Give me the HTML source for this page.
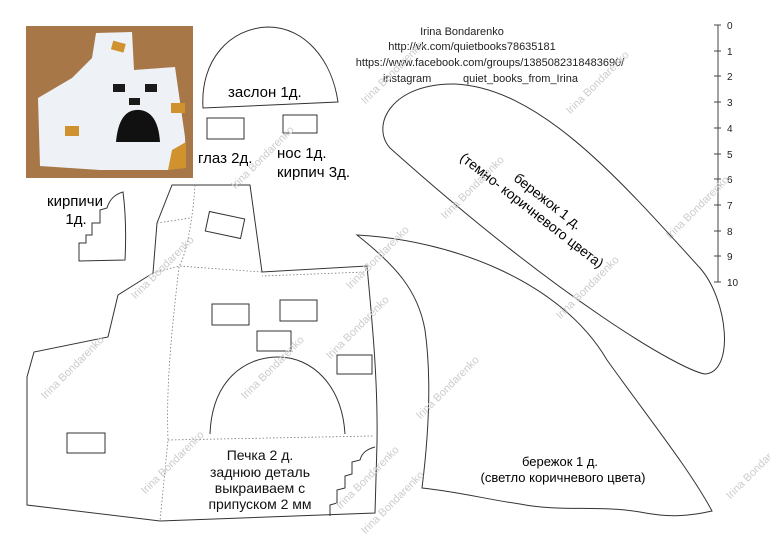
<!DOCTYPE html>
<html><head><meta charset="utf-8"><style>
html,body{margin:0;padding:0;background:#fff;}
svg{display:block;font-family:"Liberation Sans","DejaVu Sans",sans-serif;}
</style></head><body>
<svg width="770" height="544" viewBox="0 0 770 544" xmlns="http://www.w3.org/2000/svg">
<rect width="770" height="544" fill="#fff"/>
<!-- photo -->
<rect x="26" y="26" width="167" height="152" fill="#a87748"/>
<path d="M96 33 L132 32 L134 70 L175 67 L185 137 L186 165 L168 170 L100 170 L40 166 L38 98 L72 78 L92 58 Z" fill="#eef2f7"/>
<rect x="112" y="42" width="13" height="9" fill="#d0922f" transform="rotate(15 118 46)"/>
<rect x="113" y="84" width="12" height="8" fill="#1a1a1a"/>
<rect x="145" y="84" width="12" height="8" fill="#1a1a1a"/>
<rect x="129" y="98" width="11" height="7" fill="#1a1a1a"/>
<path d="M116 142 Q119 108 140 110 Q158 112 160 142 Z" fill="#111"/>
<rect x="171" y="103" width="14" height="10" fill="#d0922f"/>
<rect x="65" y="126" width="14" height="10" fill="#d0922f"/>
<path d="M172 150 L186 142 L186 168 L168 170 Z" fill="#d0922f"/>
<!-- zaslon -->
<path d="M203 108 C200 60 230 28 268 27 C305 27 332 60 338 102 Z" fill="none" stroke="#333" stroke-width="1"/>
<text x="228" y="97" font-size="15">заслон 1д.</text>
<rect x="207" y="118" width="37" height="21" fill="none" stroke="#333" stroke-width="1"/>
<rect x="283" y="115" width="34" height="18" fill="none" stroke="#333" stroke-width="1"/>
<text x="198" y="163" font-size="15">глаз 2д.</text>
<text x="277" y="158" font-size="15">нос 1д.</text>
<text x="277" y="177" font-size="15">кирпич 3д.</text>
<!-- header text -->
<g font-size="11" fill="#222" text-anchor="middle">
<text x="462" y="35">Irina Bondarenko</text>
<text x="472" y="50">http://vk.com/quietbooks78635181</text>
<text x="490" y="66">https://www.facebook.com/groups/1385082318483690/</text>
</g>
<text x="383" y="82" font-size="11" fill="#222">instagram</text>
<text x="463" y="82" font-size="11" fill="#222">quiet_books_from_Irina</text>
<!-- ruler -->
<g stroke="#444" stroke-width="1">
<line x1="718" y1="25" x2="718" y2="282"/>
<line x1="714" y1="25" x2="721" y2="25"/><line x1="714" y1="51" x2="721" y2="51"/><line x1="714" y1="76" x2="721" y2="76"/><line x1="714" y1="102" x2="721" y2="102"/><line x1="714" y1="128" x2="721" y2="128"/><line x1="714" y1="154" x2="721" y2="154"/><line x1="714" y1="179" x2="721" y2="179"/><line x1="714" y1="205" x2="721" y2="205"/><line x1="714" y1="231" x2="721" y2="231"/><line x1="714" y1="256" x2="721" y2="256"/><line x1="714" y1="282" x2="721" y2="282"/>
</g>
<g font-size="10" fill="#222">
<text x="727" y="29">0</text><text x="727" y="55">1</text><text x="727" y="80">2</text><text x="727" y="106">3</text><text x="727" y="132">4</text><text x="727" y="158">5</text><text x="727" y="183">6</text><text x="727" y="209">7</text><text x="727" y="235">8</text><text x="727" y="260">9</text><text x="727" y="286">10</text>
</g>
<!-- top leaf -->
<path d="M390 148 C370 125 392 83 455 84 C540 88 620 180 700 268 C728 300 735 372 705 374 C680 370 560 300 390 148 Z" fill="none" stroke="#333" stroke-width="1"/>
<text x="545" y="205" font-size="14" text-anchor="middle" transform="rotate(38 545 205)">бережок 1 д.</text>
<text x="538" y="222" font-size="14" text-anchor="middle" transform="rotate(38 545 205)">(темно- коричневого цвета)</text>
<!-- lower leaf -->
<path d="M357 235 C450 240 560 280 607 360 C650 420 690 470 712 511 C690 516 670 518 640 512 C600 505 560 512 520 504 C490 500 460 492 422 488 C428 440 432 380 425 330 C418 290 395 265 357 235 Z" fill="none" stroke="#333" stroke-width="1"/>
<text x="560" y="466" font-size="13" text-anchor="middle">бережок 1 д.</text>
<text x="563" y="482" font-size="13" text-anchor="middle">(светло коричневого цвета)</text>
<!-- kirpichi -->
<text x="75" y="206" font-size="15" text-anchor="middle">кирпичи</text>
<text x="76" y="224" font-size="15" text-anchor="middle">1д.</text>
<path d="M123 192 C126 215 126 240 125 260 L79 261 L79 243 L86 243 L86 235 L92 235 L92 223 L100 223 L100 210 L107 208 C110 198 116 194 123 192 Z" fill="none" stroke="#333" stroke-width="1"/>
<!-- oven -->
<path d="M172 185 L250 185 L262 272 L367 266 C372 320 378 380 377 443 L375 513 L160 521 L27 505 L27 377 L34 352 L108 337 L118 295 L153 273 L157 223 Z" fill="none" stroke="#333" stroke-width="1"/>
<g fill="none" stroke="#777" stroke-width="0.8" stroke-dasharray="1.5 2">
<path d="M195 185 C192 230 184 260 179 266 C172 330 166 380 168 440 L160 521"/>
<path d="M157 223 L190 218"/>
<path d="M153 273 L179 266 L262 272"/>
<path d="M168 440 L373 436"/>
<path d="M367 266 L365 272 L262 276"/>
</g>
<rect x="207" y="215" width="36" height="20" fill="none" stroke="#333" stroke-width="1" transform="rotate(12 225 225)"/>
<rect x="212" y="304" width="37" height="21" fill="none" stroke="#333" stroke-width="1"/>
<rect x="280" y="300" width="37" height="21" fill="none" stroke="#333" stroke-width="1"/>
<rect x="257" y="331" width="34" height="20" fill="none" stroke="#333" stroke-width="1"/>
<rect x="337" y="355" width="35" height="19" fill="none" stroke="#333" stroke-width="1"/>
<rect x="67" y="433" width="38" height="20" fill="none" stroke="#333" stroke-width="1"/>
<path d="M210 434 C212 380 245 357 278 357 C312 357 342 385 345 434" fill="none" stroke="#333" stroke-width="1"/>
<path d="M375 447 C368 449 362 452 360 460 L352 462 L352 474 L345 476 L345 488 L337 490 L337 503 L330 505 L330 516" fill="none" stroke="#333" stroke-width="1"/>
<g font-size="14" text-anchor="middle" fill="#111">
<text x="260" y="460">Печка 2 д.</text>
<text x="260" y="477">заднюю деталь</text>
<text x="260" y="493">выкраиваем с</text>
<text x="260" y="509">припуском 2 мм</text>
</g>
<!-- watermarks -->
<g font-size="11" fill="#ccc" text-anchor="middle">
<text transform="translate(75,370) rotate(-45)">Irina Bondarenko</text>
<text transform="translate(165,270) rotate(-45)">Irina Bondarenko</text>
<text transform="translate(275,370) rotate(-45)">Irina Bondarenko</text>
<text transform="translate(175,465) rotate(-45)">Irina Bondarenko</text>
<text transform="translate(395,505) rotate(-45)">Irina Bondarenko</text>
<text transform="translate(380,260) rotate(-45)">Irina Bondarenko</text>
<text transform="translate(450,390) rotate(-45)">Irina Bondarenko</text>
<text transform="translate(475,190) rotate(-45)">Irina Bondarenko</text>
<text transform="translate(590,290) rotate(-45)">Irina Bondarenko</text>
<text transform="translate(700,210) rotate(-45)">Irina Bondarenko</text>
<text transform="translate(600,85) rotate(-45)">Irina Bondarenko</text>
<text transform="translate(395,75) rotate(-45)">Irina Bondarenko</text>
<text transform="translate(265,160) rotate(-45)">Irina Bondarenko</text>
<text transform="translate(370,480) rotate(-45)">Irina Bondarenko</text>
<text transform="translate(760,470) rotate(-45)">Irina Bondarenko</text>
<text transform="translate(360,330) rotate(-45)">Irina Bondarenko</text>
</g>
</svg>
</body></html>
